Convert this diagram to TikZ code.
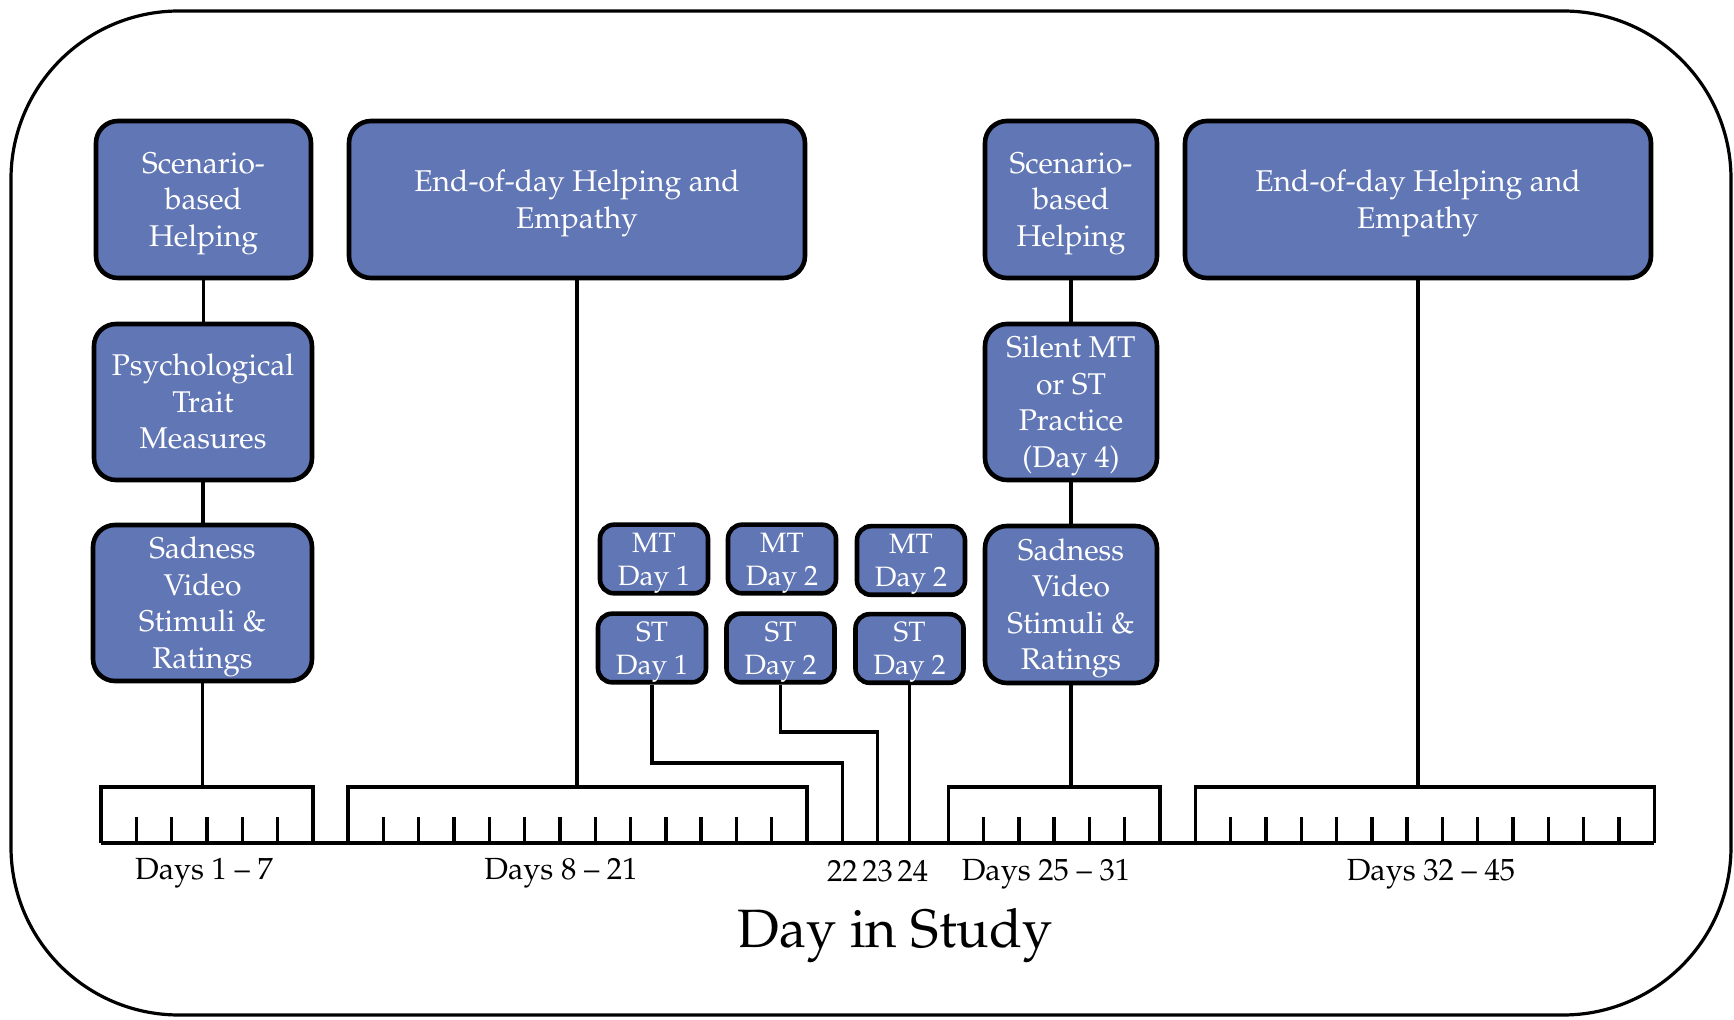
\documentclass[tikz,border=0pt]{standalone}
\usepackage[T1]{fontenc}
\renewcommand{\rmdefault}{ppl}
\usetikzlibrary{calc}
\definecolor{boxblue}{RGB}{97,118,180}
\newcommand{\topst}{\rule{0pt}{14.5pt}}
\newcommand{\botst}{\rule[-4pt]{0pt}{0pt}}
\newcommand{\stopst}{\rule{0pt}{13.8pt}}
\tikzset{
  bx/.style={draw=black, line width=2.3pt, fill=boxblue, rounded corners=11pt, text=white,
    align=center, inner sep=0pt, font=\fontsize{15}{18.25}\selectfont},
  sbx/.style={bx, rounded corners=7pt, minimum width=54pt, minimum height=33pt,
    font=\fontsize{14}{16.5}\selectfont},
  conn/.style={line width=1.6pt},
  axisline/.style={line width=1.7pt},
  lab/.style={inner sep=0pt, anchor=base, font=\fontsize{15.3}{17}\selectfont},
}
\begin{document}
\begin{tikzpicture}[x=0.5pt,y=-0.5pt]
\useasboundingbox (0,0) rectangle (1734,1020);
% outer frame
\draw[line width=1.6pt, rounded corners=84pt] (11,11) rectangle (1731,1015);

% left column
\node[bx, minimum width=107.5pt, minimum height=78.5pt] (scen1) at (203.5,199.5) {\topst Scenario-\\based\\Helping\botst};
\node[bx, minimum width=109pt, minimum height=78pt] (psych) at (203,402) {\topst Psychological\\Trait\\Measures\botst};
\node[bx, minimum width=109.5pt, minimum height=78pt] (sad1) at (202.5,603) {\topst Sadness\\Video\\Stimuli \&\\Ratings\botst};
\node[bx, minimum width=228pt, minimum height=78.5pt] (eod1) at (577,199.5) {\topst End-of-day Helping and\\Empathy\botst};

% right column
\node[bx, minimum width=86pt, minimum height=78.5pt] (scen2) at (1071,199.5) {\topst Scenario-\\based\\Helping\botst};
\node[bx, minimum width=86pt, minimum height=78pt] (silent) at (1071,402) {\topst Silent MT\\or ST\\Practice\\(Day 4)\botst};
\node[bx, minimum width=86pt, minimum height=78.5pt] (sad2) at (1071,604.5) {\topst Sadness\\Video\\Stimuli \&\\Ratings\botst};
\node[bx, minimum width=233pt, minimum height=78.5pt] (eod2) at (1418,199.5) {\topst End-of-day Helping and\\Empathy\botst};

% MT / ST boxes
\node[sbx] (mt1) at (654,559) {\stopst MT\\Day 1\botst};
\node[sbx] (mt2) at (782,559) {\stopst MT\\Day 2\botst};
\node[sbx] (mt3) at (911,560.5) {\stopst MT\\Day 2\botst};
\node[sbx] (st1) at (652,648) {\stopst ST\\Day 1\botst};
\node[sbx] (st2) at (780.5,648) {\stopst ST\\Day 2\botst};
\node[sbx] (st3) at (909.5,648.5) {\stopst ST\\Day 2\botst};

% time axis
\draw[axisline] (101,843) -- (1654.2,843);
\foreach \a/\b in {1/7, 8/21, 25/31, 32/45} {
  \draw[axisline] ({101+35.3*(\a-1)},843) -- ({101+35.3*(\a-1)},787) -- ({101+35.3*(\b-1)},787) -- ({101+35.3*(\b-1)},843);
  \pgfmathtruncatemacro\s{\a+1}
  \pgfmathtruncatemacro\e{\b-1}
  \foreach \d in {\s,...,\e} \draw[axisline] ({101+35.3*(\d-1)},843) -- ({101+35.3*(\d-1)},817);
}
\coordinate (d22) at ({101+35.3*21},843);
\coordinate (d23) at ({101+35.3*22},843);
\coordinate (d24) at ({101+35.3*23},843);
\coordinate (btop) at (0,787);
\coordinate (k1) at (0,763);
\coordinate (k2) at (0,732);

% connectors
\draw[conn] (scen1.south) -- (scen1.south |- psych.north);
\draw[conn] (psych.south) -- (psych.south |- sad1.north);
\draw[conn] (sad1.south) -- (sad1.south |- btop);
\draw[conn] (eod1.south) -- (eod1.south |- btop);
\draw[conn] (scen2.south) -- (scen2.south |- silent.north);
\draw[conn] (silent.south) -- (silent.south |- sad2.north);
\draw[conn] (sad2.south) -- (sad2.south |- btop);
\draw[conn] (eod2.south) -- (eod2.south |- btop);
\draw[conn] (st1.south) -- (st1.south |- k1) -| (d22);
\draw[conn] (st2.south) -- (st2.south |- k2) -| (d23);
\draw[conn] (st3.south) -- (st3.south |- d24);

% labels
\node[lab] (l1) at (204,879) {Days 1 -- 7};
\node[lab] (l2) at (561,879) {Days 8 -- 21};
\node[lab] (l22) at ($(d22)+(0,38)$) {22};
\node[lab] (l23) at ($(d23)+(0,38)$) {23};
\node[lab] (l24) at ($(d24)+(0,38)$) {24};
\node[lab] (l3) at (1046,880) {Days 25 -- 31};
\node[lab] (l4) at (1431,880) {Days 32 -- 45};
\node[inner sep=0pt, anchor=base, font=\fontsize{27}{32}\selectfont] (title) at (895,947) {Day in Study};
\end{tikzpicture}
\end{document}
